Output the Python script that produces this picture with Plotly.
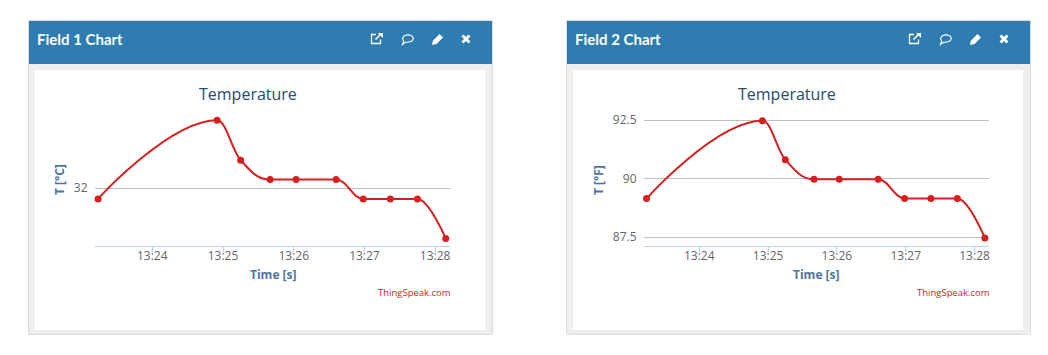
import datetime as dt
import plotly.graph_objects as go

W, H = 1048, 355
times = ["13:23:14", "13:24:55", "13:25:15", "13:25:40", "13:26:02",
         "13:26:36", "13:26:59", "13:27:22", "13:27:45", "13:28:09"]
temp_c = [31.75, 33.58, 32.65, 32.2, 32.2, 32.2, 31.75, 31.75, 31.75, 30.83]
temp_f = [89.15, 92.47, 90.81, 89.97, 89.97, 89.97, 89.15, 89.15, 89.15, 87.47]
day = "2021-01-01 "
dates = [day + t for t in times]

panel_titles = ["Field 1 Chart", "Field 2 Chart"]
chart_title = "Temperature"
y_titles = ["T [°C]", "T [°F]"]
x_title = "Time [s]"
credit = "ThingSpeak.com"
y_ticks = [[32], [87.5, 90, 92.5]]
y_ticktext = [["32"], ["87.5", "90", "92.5"]]

RED = "#d62020"
BLUE = "#2e7cb0"


def X(p):
    return p / W


def Y(p):
    return 1 - p / H


shapes, anns = [], []


def rect(x0, y0, x1, y1, fill, line=None):
    shapes.append(dict(type="rect", xref="paper", yref="paper", layer="below",
                       x0=X(x0), x1=X(x1), y0=Y(y0), y1=Y(y1), fillcolor=fill,
                       line=dict(color=line, width=1) if line else dict(width=0)))


def path(o, pts, fill=None, stroke=None, width=1.3, close=True):
    d = "M " + " L ".join(f"{X(a + o):.5f},{Y(b):.5f}" for a, b in pts) + (" Z" if close else "")
    shapes.append(dict(type="path", xref="paper", yref="paper", layer="above", path=d,
                       fillcolor=fill if fill else "rgba(0,0,0,0)",
                       line=dict(color=stroke, width=width) if stroke else dict(width=0)))


def text(x, y, s, size, color, family="Open Sans", anchor="center", angle=0, bold=False):
    anns.append(dict(xref="paper", yref="paper", x=X(x), y=Y(y), text=f"<b>{s}</b>" if bold else s,
                     showarrow=False, xanchor=anchor, yanchor="middle", textangle=angle,
                     font=dict(size=size, color=color, family=family), borderpad=0))


def icons(o):
    path(o, [(376, 34.5), (371.5, 34.5), (371.5, 43.5), (380.5, 43.5), (380.5, 39.5)], stroke="white", close=False)
    path(o, [(375.5, 39.5), (380.5, 34.5)], stroke="white", width=1.6, close=False)
    path(o, [(378, 33), (383, 33), (383, 38)], fill="white")
    path(o, [(402.5, 38.5), (404, 36), (408, 34.7), (412, 36), (413.5, 38.5), (412, 41), (408, 42.3),
             (405.5, 42.2), (402.5, 44.5), (403.7, 41.3)], stroke="white", width=1.1)
    path(o, [(432, 45), (433, 40.5), (439.5, 34), (443, 37.5), (436.5, 44)], fill="white")
    path(o, [(461.5, 36.5), (463.5, 34.5), (466, 37), (468.5, 34.5), (470.5, 36.5), (468, 39), (470.5, 41.5),
             (468.5, 43.5), (466, 41), (463.5, 43.5), (461.5, 41.5), (464, 39)], fill="white")


def spline_path(stamps, vals, smoothing=1.5):
    """Cubic path through the data in axis units, with flat tangents at peaks and plateaus."""
    secs = [(dt.datetime.strptime(s, "%Y-%m-%d %H:%M:%S") - dt.datetime(2021, 1, 1)).total_seconds() for s in stamps]
    n = len(secs)
    right = [(secs[i], vals[i]) for i in range(n)]
    left = [(secs[i], vals[i]) for i in range(n)]
    den = smoothing + 1
    for i in range(1, n - 1):
        x, y = secs[i], vals[i]
        lx, ly = secs[i - 1], vals[i - 1]
        nx, ny = secs[i + 1], vals[i + 1]
        lcx, lcy = (smoothing * x + lx) / den, (smoothing * y + ly) / den
        rcx, rcy = (smoothing * x + nx) / den, (smoothing * y + ny) / den
        c = (rcy - lcy) * (rcx - x) / (rcx - lcx) + y - rcy
        lcy += c
        rcy += c
        if lcy > ly and lcy > y:
            lcy = max(ly, y)
            rcy = 2 * y - lcy
        elif lcy < ly and lcy < y:
            lcy = min(ly, y)
            rcy = 2 * y - lcy
        if rcy > ny and rcy > y:
            rcy = max(ny, y)
            lcy = 2 * y - rcy
        elif rcy < ny and rcy < y:
            rcy = min(ny, y)
            lcy = 2 * y - rcy
        left[i] = (lcx, lcy)
        right[i] = (rcx, rcy)

    def d(s):
        t = dt.datetime(2021, 1, 1) + dt.timedelta(seconds=s)
        return t.strftime("%Y-%m-%d_%H:%M:%S.%f")[:-3]

    out = [f"M{d(secs[0])},{vals[0]}"]
    for i in range(1, n):
        out.append(f"C{d(right[i-1][0])},{right[i-1][1]:.4f} {d(left[i][0])},{left[i][1]:.4f} {d(secs[i])},{vals[i]}")
    return " ".join(out)


offs = [0, 538]
for i, o in enumerate(offs):
    rect(28.5 + o, 20.5, 492.5 + o, 334.5, "#eeeeee", "#dddddd")
    rect(29 + o, 21, 492 + o, 64, BLUE)
    rect(35 + o, 70, 485 + o, 330, "white")
    text(35.5 + o, 39, panel_titles[i], 15, "white", family="Lato", anchor="left", bold=True)
    icons(o)
    text(248 + o + (1 if i else 0), 93.5, chart_title, 16, "#274b6d")
    text(273 + o + (5 if i == 1 else 0), 274.5, x_title, 12, "#4d759e", bold=True)
    text(59 + (o + 1 if i else 0), 180, y_titles[i], 12, "#4d759e", angle=-90, bold=True)
    text((452 if i == 0 else 991), 292, credit, 9.5, RED, anchor="right")

fig = go.Figure()
for i, vals in enumerate([temp_c, temp_f]):
    s = "" if i == 0 else "2"
    fig.add_trace(go.Scatter(x=dates, y=vals, mode="markers", xaxis="x" + s, yaxis="y" + s,
                             marker=dict(color=RED, size=7), cliponaxis=False, showlegend=False))
    shapes.append(dict(type="path", xref="x" + s, yref="y" + s, layer="above", path=spline_path(dates, vals),
                       fillcolor="rgba(0,0,0,0)", line=dict(color=RED, width=2)))

TOP, BOT = 110, 245.7
domains = [(95, 450), (644, 989)]
x_ranges = [[day + "13:23:11.4", day + "13:28:12.6"], [day + "13:23:11.8", day + "13:28:12.6"]]
y_ranges = [[30.66, 33.82], [87.14, 92.93]]
layout = dict(width=W, height=H, margin=dict(l=0, r=0, t=0, b=0), paper_bgcolor="white",
              plot_bgcolor="rgba(0,0,0,0)", shapes=shapes, annotations=anns, showlegend=False)
for i in range(2):
    s = "" if i == 0 else "2"
    layout["xaxis" + s] = dict(domain=[X(domains[i][0]), X(domains[i][1])], range=x_ranges[i], type="date",
                               anchor="y" + s, tick0=day + "13:24:00", dtick=60000, tickformat="%H:%M",
                               ticks="outside", ticklen=5, tickwidth=1, tickcolor="#c0d0e0", showline=True,
                               linecolor="#c0d0e0", linewidth=1, showgrid=False, zeroline=False,
                               ticklabelstandoff=-6,
                               tickfont=dict(family="Open Sans", size=12, color="#666666"))
    layout["yaxis" + s] = dict(domain=[Y(BOT), Y(TOP)], range=y_ranges[i], anchor="x" + s,
                               tickmode="array", tickvals=y_ticks[i], ticktext=y_ticktext[i],
                               ticks="outside", ticklen=4, tickcolor="rgba(0,0,0,0)", showline=False,
                               showgrid=True, gridcolor="#c0c0c0", gridwidth=1, zeroline=False,
                               tickfont=dict(family="Open Sans", size=12, color="#666666"))
fig.update_layout(**layout)
fig.write_html("out.html", post_script="document.body.style.margin='0';document.body.style.overflow='hidden';",
               config=dict(displayModeBar=False))
